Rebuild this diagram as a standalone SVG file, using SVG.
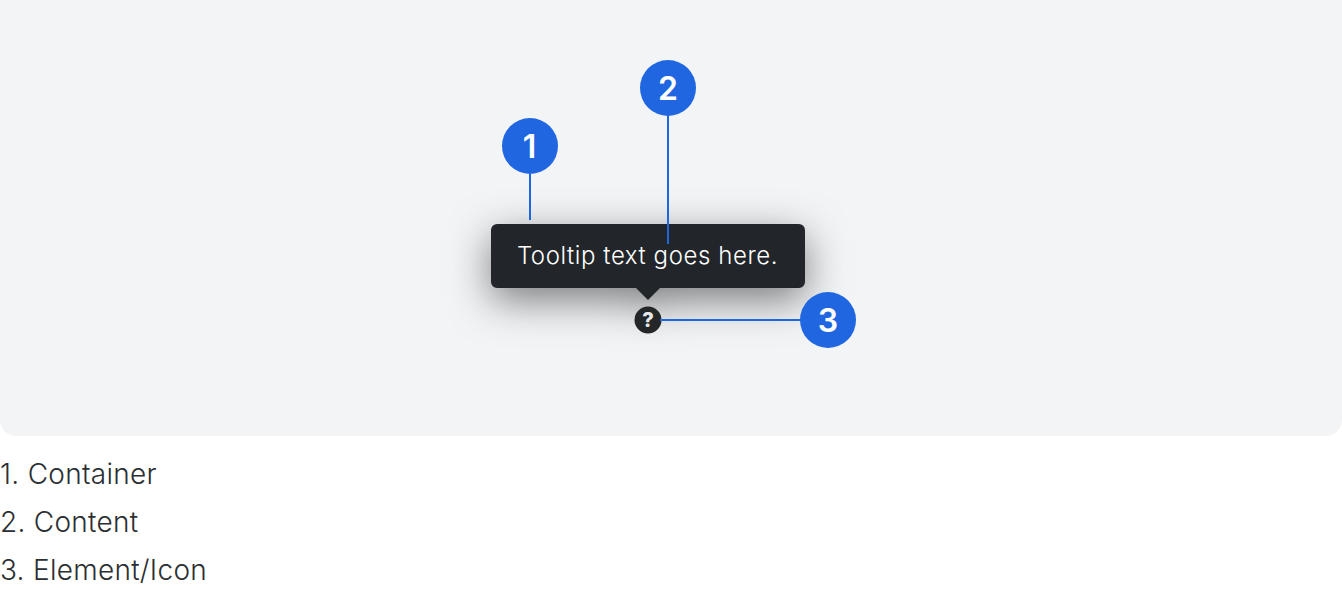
<svg xmlns="http://www.w3.org/2000/svg" width="1342" height="590" viewBox="0 0 1342 590">
<style>
text{font-family:Inter,"Liberation Sans",sans-serif}
.b{fill:#1f66e0}
.n{fill:#fff;font-size:32px;font-weight:600;text-anchor:middle}
.c{stroke:#1f66e0;stroke-width:2;fill:none}
.l{fill:#2b2f32;font-size:28px;letter-spacing:.28px;font-weight:300}
</style>
<defs><filter id="s" x="-40%" y="-120%" width="180%" height="380%"><feDropShadow dx="0" dy="12" stdDeviation="20" flood-color="#000" flood-opacity=".5"/></filter></defs>
<rect x="0" y="-16" width="1342" height="452" rx="16" fill="#f3f4f6"/>
<g id="tooltip">
<path filter="url(#s)" d="M497 224H799a6 6 0 0 1 6 6V282a6 6 0 0 1-6 6H660L648 300L636 288H497a6 6 0 0 1-6-6V230a6 6 0 0 1 6-6Z" fill="#24272a"/>
<text x="647.5" y="264" fill="#fff" font-size="24" font-weight="300" letter-spacing=".58" text-anchor="middle">Tooltip text goes here.</text>
</g>
<g id="icon"><circle cx="648" cy="320" r="13.5" fill="#24272a"/><text x="648" y="327" fill="#e8e8e8" font-size="20" font-weight="800" text-anchor="middle">?</text></g>
<g id="connectors">
<path class="c" d="M530 174V220"/><path class="c" d="M668 115V244"/><path class="c" d="M660 320H802"/>
</g>
<g id="n1"><circle class="b" cx="530" cy="146" r="28"/><text class="n" x="529.5" y="158">1</text></g>
<g id="n2"><circle class="b" cx="668" cy="88" r="28"/><text class="n" x="668" y="100">2</text></g>
<g id="n3"><circle class="b" cx="828" cy="320" r="28"/><text class="n" x="828" y="332">3</text></g>
<g id="legend">
<text class="l" x="0" y="484">1. Container</text>
<text class="l" x="0" y="532">2. Content</text>
<text class="l" x="0" y="580">3. Element/Icon</text>
</g>
</svg>
